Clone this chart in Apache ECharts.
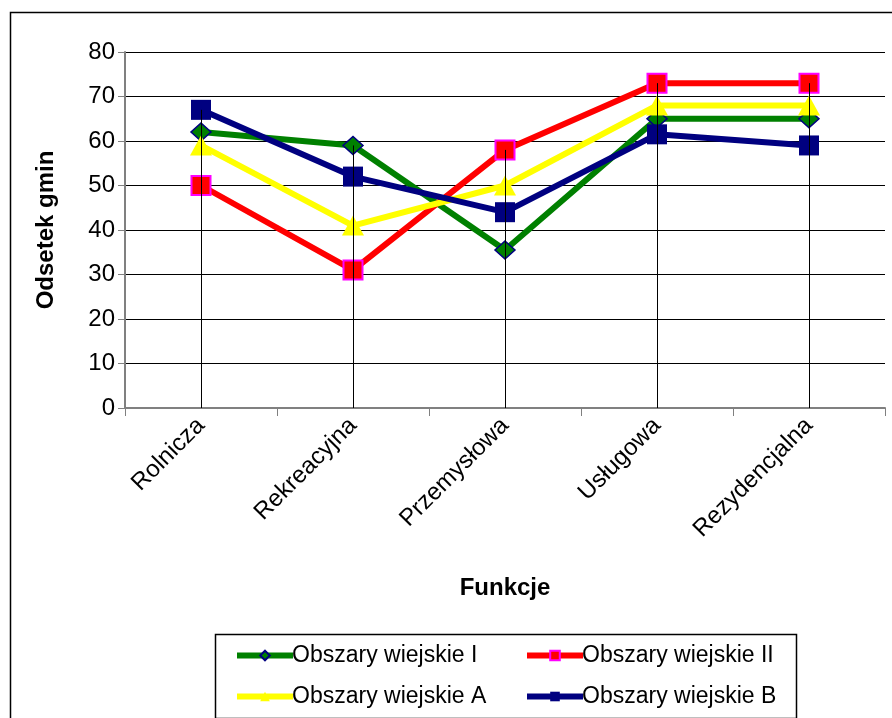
<!DOCTYPE html>
<html>
<head>
<meta charset="utf-8">
<script src="https://cdn.jsdelivr.net/npm/echarts@6/dist/echarts.min.js"></script>
<style>
html,body{margin:0;padding:0;background:#fff;}
#chart{width:892px;height:718px;}
</style>
</head>
<body>
<div id="chart"></div>
<script>
const categories = ['Rolnicza', 'Rekreacyjna', 'Przemysłowa', 'Usługowa', 'Rezydencjalna'];
const seriesNames = ['Obszary wiejskie I', 'Obszary wiejskie II', 'Obszary wiejskie A', 'Obszary wiejskie B'];
const valuesI  = [62, 59, 35.5, 65, 65];
const valuesII = [50, 31, 58, 73, 73];
const valuesA  = [59, 41, 50, 68, 68];
const valuesB  = [67, 52, 44, 61.5, 59];
const yTicks = [0, 10, 20, 30, 40, 50, 60, 70, 80];

const FONT = "'Liberation Sans', Arial, sans-serif";
const allSeries = [valuesI, valuesII, valuesA, valuesB];
const dropTops = categories.map((c, i) => Math.max(...allSeries.map(s => s[i])));

const chart = echarts.init(document.getElementById('chart'), null, {renderer: 'canvas'});

function lineSeries(name, data, color, symbol, size, borderColor, borderWidth) {
  return {
    name: name,
    type: 'line',
    data: data,
    symbol: symbol,
    symbolSize: size,
    showAllSymbol: true,
    lineStyle: {color: color, width: 6},
    itemStyle: {color: color, borderColor: borderColor || color, borderWidth: borderWidth || 0},
    emphasis: {disabled: true},
    animation: false
  };
}

const legendCommon = {
  orient: 'vertical',
  top: 639,
  itemWidth: 56, itemHeight: 12, itemGap: 18,
  textStyle: {fontFamily: FONT, fontSize: 23, color: '#000', padding: [0, 0, 0, -6]},
  lineStyle: {width: 6},
  selectedMode: false
};

const option = {
  backgroundColor: '#fff',
  animation: false,
  grid: {left: 125, right: 7, top: 52, bottom: 310, containLabel: false},
  xAxis: {
    type: 'category',
    data: categories,
    boundaryGap: true,
    name: 'Funkcje',
    nameLocation: 'middle',
    nameGap: 168,
    nameTextStyle: {fontFamily: FONT, fontSize: 24, fontWeight: 'bold', color: '#000'},
    axisLine: {show: true, lineStyle: {color: '#808080', width: 2}},
    axisTick: {show: true, alignWithLabel: false, length: 8, lineStyle: {color: '#808080', width: 1}},
    axisLabel: {rotate: 45, fontFamily: FONT, fontSize: 24, color: '#000', margin: 14, interval: 0},
    splitLine: {show: false}
  },
  yAxis: {
    type: 'value',
    min: 0, max: 80, interval: 10,
    name: 'Odsetek gmin',
    nameLocation: 'middle',
    nameGap: 67,
    nameRotate: 90,
    nameTextStyle: {fontFamily: FONT, fontSize: 24, fontWeight: 'bold', color: '#000'},
    axisLine: {show: true, lineStyle: {color: '#808080', width: 2}},
    axisTick: {show: true, length: 7, lineStyle: {color: '#808080', width: 1}},
    axisLabel: {fontFamily: FONT, fontSize: 24, color: '#000', margin: 10,
      formatter: v => yTicks.indexOf(v) >= 0 ? String(v) : ''},
    splitLine: {show: true, lineStyle: {color: '#000', width: 1}}
  },
  legend: [
    Object.assign({data: [seriesNames[0], seriesNames[2]], left: 229}, legendCommon),
    Object.assign({data: [seriesNames[1], seriesNames[3]], left: 519}, legendCommon)
  ],
  graphic: [
    {type: 'rect', left: 8, top: 10, shape: {width: 1000, height: 1000}, style: {fill: 'none', stroke: '#000', lineWidth: 1.5}, silent: true, z: -10},
    {type: 'rect', left: 213, top: 632, shape: {width: 581, height: 84}, style: {fill: 'none', stroke: '#000', lineWidth: 1.5}, silent: true}
  ],
  series: [
    lineSeries(seriesNames[0], valuesI, '#008000', 'diamond', [20, 18], '#000080', 1.5),
    lineSeries(seriesNames[1], valuesII, '#FF0000', 'rect', 19, '#FF00FF', 2),
    lineSeries(seriesNames[2], valuesA, '#FFFF00', 'triangle', [22, 20], null, 0),
    lineSeries(seriesNames[3], valuesB, '#000080', 'rect', 20, null, 0),
    {
      type: 'custom',
      name: 'drop',
      data: dropTops.map((v, i) => [i, v]),
      z: 5,
      silent: true,
      renderItem: function (params, api) {
        const top = api.coord([api.value(0), api.value(1)]);
        const bottom = api.coord([api.value(0), 0]);
        const x = Math.round(top[0]) + 0.5;
        return {
          type: 'line',
          shape: {x1: x, y1: top[1], x2: x, y2: bottom[1]},
          style: {stroke: '#000', lineWidth: 1}
        };
      }
    }
  ]
};
chart.setOption(option);
</script>
</body>
</html>
